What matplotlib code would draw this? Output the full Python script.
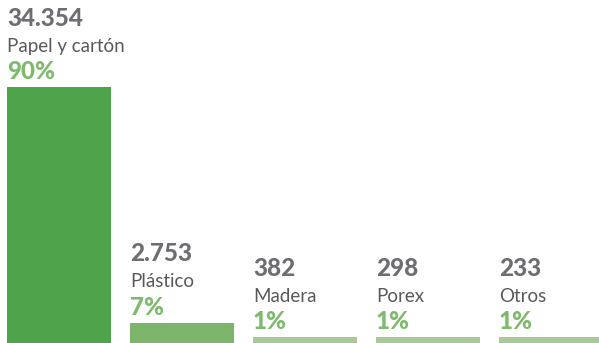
import matplotlib
matplotlib.use("Agg")
import matplotlib.pyplot as plt

categories = ["Papel y cartón", "Plástico", "Madera", "Porex", "Otros"]
values = [34354, 2753, 382, 298, 233]
value_labels = ["34.354", "2.753", "382", "298", "233"]
percents = ["90%", "7%", "1%", "1%", "1%"]
bar_colors = ["#4fa34a", "#7db46b", "#a6c996", "#a6c996", "#a6c996"]

W, H, DPI = 599, 343, 100
fig = plt.figure(figsize=(W / DPI, H / DPI), dpi=DPI)
ax = fig.add_axes([0, 0, 1, 1])
ax.set_axis_off()

step_px = 123.0
width = 104.0 / step_px
first_center_px = 59.0
ax.set_xlim(-first_center_px / step_px, (W - first_center_px) / step_px)
bar_px_max = 255.7
ymax = max(values) * H / bar_px_max
ax.set_ylim(0, ymax)

min_h = max(values) * 6.0 / bar_px_max
heights = [max(v, min_h) for v in values]
xs = list(range(len(categories)))
ax.bar(xs, heights, width=width, color=bar_colors, linewidth=0)

px = 0.72  # points per pixel
fam = ["Lato", "DejaVu Sans"]
for x, h, vl, cat, pc in zip(xs, heights, value_labels, categories, percents):
    left = x - width / 2
    ax.annotate(pc, (left, h), xytext=(0, 8 * px), textcoords="offset points",
                ha="left", va="baseline", fontsize=17.5, fontweight=900,
                color="#7dba6b", family=fam)
    ax.annotate(cat, (left, h), xytext=(0, 35.5 * px), textcoords="offset points",
                ha="left", va="baseline", fontsize=13.5,
                color="#58595b", family=fam)
    ax.annotate(vl, (left, h), xytext=(0, 61.5 * px), textcoords="offset points",
                ha="left", va="baseline", fontsize=17.5, fontweight=900,
                color="#6d6e71", family=fam)

fig.savefig("out.png", dpi=DPI)
